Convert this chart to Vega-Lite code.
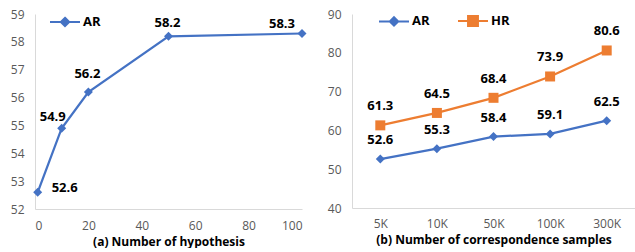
{
  "$schema": "https://vega.github.io/schema/vega-lite/v6.json",
  "background": "white",
  "padding": {"left": 10, "top": 5, "right": 0, "bottom": 1},
  "spacing": 50,
  "bounds": "flush",
  "config": {
    "font": "Open Sans",
    "view": {"stroke": null},
    "axis": {
      "domainColor": "#D9D9D9",
      "domainWidth": 1,
      "ticks": false,
      "grid": false,
      "labelColor": "#595959",
      "labelFontSize": 12,
      "labelFont": "Open Sans",
      "titleFont": "Open Sans",
      "titleFontSize": 12,
      "titleFontWeight": "bold",
      "titleColor": "#000000",
      "labelPadding": 11,
      "titlePadding": 5
    },
    "text": {"font": "Open Sans", "fontSize": 13, "fontWeight": "bold", "color": "#000000", "align": "center", "baseline": "middle"}
  },
  "resolve": {
    "scale": {"x": "independent", "y": "independent", "color": "independent"},
    "legend": {"color": "independent"}
  },
  "hconcat": [
    {
      "width": 267,
      "height": 195,
      "data": {"values": [
        {"hyp": 1, "series": "AR", "value": 52.6},
        {"hyp": 10, "series": "AR", "value": 54.9},
        {"hyp": 20, "series": "AR", "value": 56.2},
        {"hyp": 50, "series": "AR", "value": 58.2},
        {"hyp": 100, "series": "AR", "value": 58.3}
      ]},
      "encoding": {
        "x": {"field": "hyp", "type": "quantitative", "scale": {"domain": [0, 100]}, "axis": {"values": [0, 20, 40, 60, 80, 100], "title": "(a) Number of hypothesis", "labelPadding": 11}},
        "y": {"field": "value", "type": "quantitative", "scale": {"domain": [52, 59], "zero": false}, "axis": {"values": [52, 53, 54, 55, 56, 57, 58, 59], "title": null}}
      },
      "layer": [
        {
          "mark": {"type": "line", "strokeWidth": 2.25},
          "encoding": {
            "color": {"field": "series", "type": "nominal", "scale": {"domain": ["AR"], "range": ["#4472C4"]},
              "legend": {
                "title": null, "orient": "none", "legendX": 14, "legendY": -8, "direction": "horizontal",
                "symbolSize": 900, "symbolStrokeWidth": 2, "symbolType": "M-1,0H1M0,-0.28L0.28,0L0,0.28L-0.28,0Z",
                "labelFontSize": 13, "labelFontWeight": "bold", "labelColor": "#000000", "labelOffset": 2, "labelFont": "Open Sans",
                "encode": {"symbols": {"update": {
                  "shape": {"value": "M-1,0H1M0,-0.28L0.28,0L0,0.28L-0.28,0Z"},
                  "fill": {"value": "#4472C4"},
                  "stroke": {"value": "#4472C4"},
                  "strokeWidth": {"value": 2},
                  "opacity": {"value": 1}
                }}}
              }
            }
          }
        },
        {
          "mark": {"type": "point", "shape": "diamond", "filled": true, "size": 81, "opacity": 1},
          "encoding": {"color": {"field": "series", "type": "nominal", "scale": {"domain": ["AR"], "range": ["#4472C4"]}, "legend": null}}
        },
        {"transform": [{"filter": "datum.hyp == 1"}], "mark": {"type": "text", "dx": 27, "dy": -4}, "encoding": {"text": {"field": "value", "format": ".1f"}}},
        {"transform": [{"filter": "datum.hyp == 10"}], "mark": {"type": "text", "dx": -9, "dy": -11}, "encoding": {"text": {"field": "value", "format": ".1f"}}},
        {"transform": [{"filter": "datum.hyp == 20"}], "mark": {"type": "text", "dx": -1, "dy": -18}, "encoding": {"text": {"field": "value", "format": ".1f"}}},
        {"transform": [{"filter": "datum.hyp == 50"}], "mark": {"type": "text", "dx": -1, "dy": -13}, "encoding": {"text": {"field": "value", "format": ".1f"}}},
        {"transform": [{"filter": "datum.hyp == 100"}], "mark": {"type": "text", "dx": -20, "dy": -10}, "encoding": {"text": {"field": "value", "format": ".1f"}}}
      ]
    },
    {
      "width": 283,
      "height": 194,
      "data": {"values": [
        {"samples": "5K", "series": "AR", "value": 52.6},
        {"samples": "10K", "series": "AR", "value": 55.3},
        {"samples": "50K", "series": "AR", "value": 58.4},
        {"samples": "100K", "series": "AR", "value": 59.1},
        {"samples": "300K", "series": "AR", "value": 62.5},
        {"samples": "5K", "series": "HR", "value": 61.3},
        {"samples": "10K", "series": "HR", "value": 64.5},
        {"samples": "50K", "series": "HR", "value": 68.4},
        {"samples": "100K", "series": "HR", "value": 73.9},
        {"samples": "300K", "series": "HR", "value": 80.6}
      ]},
      "encoding": {
        "x": {"field": "samples", "type": "ordinal", "scale": {"domain": ["5K", "10K", "50K", "100K", "300K"]}, "axis": {"labelAngle": 0, "title": "(b) Number of correspondence samples", "labelPadding": 10}},
        "y": {"field": "value", "type": "quantitative", "scale": {"domain": [40, 90], "zero": false}, "axis": {"values": [40, 50, 60, 70, 80, 90], "title": null}}
      },
      "layer": [
        {
          "mark": {"type": "line", "strokeWidth": 2.25},
          "encoding": {
            "color": {"field": "series", "type": "nominal", "scale": {"domain": ["AR", "HR"], "range": ["#4472C4", "#ED7D31"]},
              "legend": {
                "title": null, "orient": "none", "legendX": 26, "legendY": -9, "direction": "horizontal", "columns": 2, "columnPadding": 24,
                "symbolSize": 900, "symbolStrokeWidth": 2, "symbolType": "M-1,0H1M0,-0.28L0.28,0L0,0.28L-0.28,0Z",
                "labelFontSize": 13, "labelFontWeight": "bold", "labelColor": "#000000", "labelOffset": 2, "labelFont": "Open Sans",
                "encode": {"symbols": {"update": {
                  "shape": {"signal": "datum.value === 'AR' ? 'M-1,0H1M0,-0.28L0.28,0L0,0.28L-0.28,0Z' : 'M-1,0H1M-0.33,-0.33H0.33V0.33H-0.33Z'"},
                  "fill": {"signal": "datum.value === 'AR' ? '#4472C4' : '#ED7D31'"},
                  "stroke": {"signal": "datum.value === 'AR' ? '#4472C4' : '#ED7D31'"},
                  "strokeWidth": {"value": 2},
                  "opacity": {"value": 1}
                }}}
              }
            }
          }
        },
        {
          "transform": [{"filter": "datum.series === 'AR'"}],
          "mark": {"type": "point", "shape": "diamond", "filled": true, "size": 81, "opacity": 1, "color": "#4472C4"}
        },
        {
          "transform": [{"filter": "datum.series === 'HR'"}],
          "mark": {"type": "point", "shape": "square", "filled": true, "size": 100, "opacity": 1, "color": "#ED7D31"}
        },
        {"mark": {"type": "text", "dy": -19}, "encoding": {"text": {"field": "value", "format": ".1f"}}}
      ]
    }
  ]
}
